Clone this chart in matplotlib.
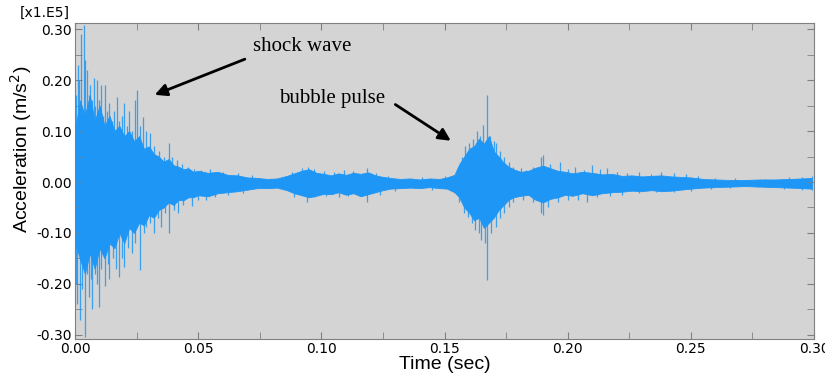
import numpy as np
import matplotlib.pyplot as plt
from matplotlib.ticker import MultipleLocator, FormatStrFormatter

# огибающая "ядра" сигнала (x1.E5 m/s^2)
env_t = [0.000, 0.002, 0.004, 0.006, 0.008, 0.010, 0.012, 0.014, 0.016, 0.018,
         0.020, 0.022, 0.024, 0.026, 0.028, 0.030, 0.032, 0.034, 0.036, 0.038,
         0.040, 0.042, 0.044, 0.046, 0.048, 0.050, 0.054, 0.058, 0.062, 0.066,
         0.070, 0.074, 0.078, 0.082, 0.086, 0.089, 0.092, 0.095, 0.098, 0.101,
         0.104, 0.107, 0.110, 0.113, 0.116, 0.119, 0.122, 0.125, 0.128, 0.132,
         0.136, 0.140, 0.144, 0.148, 0.151, 0.154, 0.156, 0.158, 0.160, 0.162,
         0.164, 0.166, 0.168, 0.170, 0.172, 0.174, 0.176, 0.178, 0.181, 0.184,
         0.187, 0.190, 0.193, 0.196, 0.199, 0.202, 0.206, 0.210, 0.214, 0.218,
         0.222, 0.226, 0.230, 0.234, 0.238, 0.242, 0.246, 0.250, 0.255, 0.260,
         0.266, 0.272, 0.278, 0.284, 0.290, 0.295, 0.299]
env_hi = [0.10, 0.16, 0.13, 0.17, 0.12, 0.15, 0.11, 0.13, 0.10, 0.11,
          0.09, 0.10, 0.08, 0.09, 0.065, 0.07, 0.055, 0.05, 0.04, 0.045,
          0.033, 0.03, 0.025, 0.027, 0.02, 0.022, 0.018, 0.02, 0.014, 0.013,
          0.009, 0.008, 0.006, 0.007, 0.012, 0.017, 0.022, 0.025, 0.018, 0.016,
          0.013, 0.017, 0.014, 0.018, 0.016, 0.019, 0.013, 0.010, 0.008, 0.006,
          0.007, 0.005, 0.007, 0.006, 0.009, 0.014, 0.035, 0.05, 0.065, 0.07,
          0.085, 0.075, 0.09, 0.06, 0.05, 0.038, 0.03, 0.025, 0.02, 0.022,
          0.028, 0.032, 0.027, 0.022, 0.02, 0.017, 0.02, 0.018, 0.015, 0.016,
          0.012, 0.013, 0.011, 0.012, 0.013, 0.011, 0.010, 0.009, 0.006, 0.005,
          0.004, 0.004, 0.005, 0.005, 0.006, 0.007, 0.008]
env_lo = [-0.12, -0.15, -0.18, -0.14, -0.17, -0.13, -0.15, -0.12, -0.13, -0.10,
          -0.12, -0.09, -0.10, -0.08, -0.085, -0.065, -0.07, -0.055, -0.05, -0.04,
          -0.045, -0.035, -0.036, -0.03, -0.03, -0.026, -0.028, -0.022, -0.02, -0.018,
          -0.015, -0.012, -0.012, -0.011, -0.016, -0.022, -0.026, -0.03, -0.027, -0.023,
          -0.024, -0.02, -0.025, -0.022, -0.028, -0.024, -0.02, -0.016, -0.013, -0.012,
          -0.011, -0.012, -0.010, -0.012, -0.013, -0.02, -0.03, -0.05, -0.06, -0.075,
          -0.07, -0.09, -0.08, -0.07, -0.055, -0.045, -0.035, -0.03, -0.027, -0.025,
          -0.035, -0.04, -0.033, -0.03, -0.025, -0.027, -0.022, -0.026, -0.022, -0.02,
          -0.019, -0.017, -0.018, -0.016, -0.018, -0.017, -0.015, -0.013, -0.011, -0.010,
          -0.009, -0.008, -0.009, -0.010, -0.011, -0.012, -0.013]

# отдельные пики
peak_t = [0.0005, 0.0012, 0.0018, 0.0026, 0.0035, 0.0042, 0.0049, 0.0055, 0.0061, 0.0068,
          0.0076, 0.0083, 0.0090, 0.0097, 0.0104, 0.0112, 0.0122, 0.0130, 0.0140, 0.0150,
          0.0160, 0.0170, 0.0180, 0.0190, 0.0200, 0.0210, 0.0220, 0.0232, 0.0245, 0.0252,
          0.0262, 0.0275, 0.0290, 0.0305, 0.0320, 0.0340, 0.0360, 0.0380, 0.0395, 0.0415,
          0.0435, 0.0460, 0.0485, 0.0510,
          0.0004, 0.0010, 0.0020, 0.0028, 0.0039, 0.0047, 0.0056, 0.0063, 0.0070, 0.0080,
          0.0088, 0.0096, 0.0105, 0.0120, 0.0132, 0.0140, 0.0155, 0.0165, 0.0177, 0.0190,
          0.0200, 0.0215, 0.0230, 0.0245, 0.0264, 0.0280, 0.0290, 0.0305, 0.0320, 0.0335,
          0.0350, 0.0365, 0.0380, 0.0400, 0.0420, 0.0440, 0.0475, 0.0500,
          0.055, 0.060, 0.066, 0.072, 0.088, 0.092, 0.0945, 0.097, 0.101, 0.105,
          0.109, 0.113, 0.1185, 0.122, 0.127, 0.141, 0.150,
          0.053, 0.057, 0.062, 0.068, 0.089, 0.094, 0.097, 0.102, 0.107, 0.111,
          0.1185, 0.124, 0.130, 0.145,
          0.1555, 0.157, 0.1585, 0.160, 0.1615, 0.163, 0.1645, 0.1655, 0.1673, 0.1685,
          0.170, 0.171, 0.1725, 0.174, 0.176, 0.178, 0.181, 0.183, 0.186, 0.189,
          0.190, 0.193, 0.197, 0.200, 0.203, 0.2065, 0.210, 0.213, 0.216, 0.220,
          0.224, 0.229, 0.234, 0.238, 0.243, 0.248, 0.253, 0.260, 0.268, 0.280,
          0.290, 0.295, 0.299,
          0.156, 0.158, 0.1595, 0.161, 0.1625, 0.164, 0.165, 0.1673, 0.1665, 0.169,
          0.171, 0.1725, 0.174, 0.176, 0.178, 0.182, 0.186, 0.189, 0.190, 0.192,
          0.196, 0.200, 0.204, 0.208, 0.212, 0.217, 0.222, 0.229, 0.236, 0.243,
          0.250, 0.258, 0.266, 0.277, 0.288, 0.295, 0.299]
peak_v = [0.17, 0.23, 0.20, 0.29, 0.308, 0.24, 0.22, 0.17, 0.19, 0.16,
          0.205, 0.15, 0.20, 0.16, 0.19, 0.13, 0.19, 0.14, 0.155, 0.12,
          0.14, 0.167, 0.12, 0.13, 0.155, 0.11, 0.14, 0.10, 0.16, 0.18,
          0.11, 0.127, 0.10, 0.096, 0.07, 0.06, 0.05, 0.076, 0.05, 0.043,
          0.035, 0.03, 0.025, 0.024,
          -0.20, -0.24, -0.27, -0.21, -0.305, -0.18, -0.225, -0.19, -0.25, -0.18,
          -0.20, -0.245, -0.17, -0.205, -0.16, -0.19, -0.15, -0.17, -0.186, -0.15,
          -0.166, -0.13, -0.14, -0.12, -0.172, -0.10, -0.088, -0.08, -0.10, -0.07,
          -0.088, -0.06, -0.10, -0.055, -0.06, -0.045, -0.048, -0.035,
          0.025, 0.02, 0.018, 0.013, 0.02, 0.028, 0.03, 0.025, 0.022, 0.02,
          0.024, 0.022, 0.027, 0.018, 0.012, 0.01, 0.012,
          -0.035, -0.03, -0.025, -0.022, -0.03, -0.04, -0.03, -0.028, -0.03, -0.028,
          -0.04, -0.025, -0.018, -0.016,
          0.03, 0.05, 0.07, 0.076, 0.085, 0.10, 0.09, 0.112, 0.17, 0.09,
          0.08, 0.076, 0.06, 0.05, 0.04, 0.03, 0.028, 0.024, 0.03, 0.05,
          0.053, 0.035, 0.04, 0.025, 0.03, 0.023, 0.033, 0.025, 0.027, 0.02,
          0.018, 0.02, 0.016, 0.02, 0.017, 0.015, 0.012, 0.008, 0.007, 0.006,
          0.009, 0.01, 0.011,
          -0.04, -0.06, -0.068, -0.08, -0.094, -0.10, -0.114, -0.192, -0.12, -0.10,
          -0.088, -0.07, -0.06, -0.05, -0.04, -0.035, -0.04, -0.06, -0.065, -0.05,
          -0.04, -0.035, -0.035, -0.04, -0.03, -0.028, -0.025, -0.022, -0.02, -0.02,
          -0.018, -0.014, -0.012, -0.01, -0.013, -0.016, -0.015]

blue = '#1e96f5'

fig = plt.figure(figsize=(8.25, 3.78), dpi=100)
ax = fig.add_axes([0.0909, 0.1032, 0.8958, 0.8360])
ax.set_facecolor('#d4d4d4')

ax.fill_between(env_t, env_lo, env_hi, color=blue, lw=0.6, edgecolor=blue)
ax.vlines(peak_t, 0, peak_v, color=blue, lw=0.9, alpha=0.85)

ax.set_xlim(0, 0.30)
ax.set_ylim(-0.308, 0.312)
ax.xaxis.set_major_locator(MultipleLocator(0.05))
ax.xaxis.set_minor_locator(MultipleLocator(0.025))
ax.yaxis.set_major_locator(MultipleLocator(0.10))
ax.yaxis.set_minor_locator(MultipleLocator(0.05))
ax.xaxis.set_major_formatter(FormatStrFormatter('%.2f'))
ax.yaxis.set_major_formatter(FormatStrFormatter('%.2f'))
ax.tick_params(which='both', direction='in', top=True, right=True,
               color='#808080', labelsize=10, pad=2, length=5)
for s in ax.spines.values():
    s.set_color('#808080')

ax.set_xlabel('Time (sec)', fontfamily='Liberation Sans', fontsize=14, labelpad=0)
ax.set_ylabel('Acceleration (m/s$^2$)', fontfamily='Liberation Sans', fontsize=14)
ax.yaxis.set_label_coords(-0.056, 0.60)
fig.text(0.024, 0.965, '[x1.E5]', fontsize=10, ha='left', va='center')

# подписи со стрелками
ax.annotate('', xy=(0.0313, 0.169), xytext=(0.0700, 0.243),
            arrowprops=dict(arrowstyle='-|>', lw=2, color='black', mutation_scale=18))
ax.text(0.0723, 0.265, 'shock wave', fontfamily='Liberation Serif', fontsize=15,
        ha='left', va='center')
ax.annotate('', xy=(0.1535, 0.078), xytext=(0.1291, 0.155),
            arrowprops=dict(arrowstyle='-|>', lw=2, color='black', mutation_scale=18))
ax.text(0.0828, 0.163, 'bubble pulse', fontfamily='Liberation Serif', fontsize=15,
        ha='left', va='center')

plt.savefig('out.png', dpi=100)
